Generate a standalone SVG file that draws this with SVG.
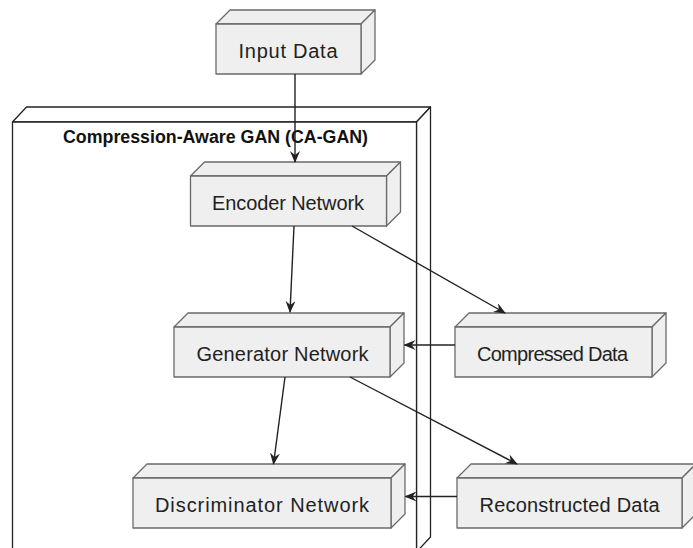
<svg xmlns="http://www.w3.org/2000/svg" width="693" height="548" viewBox="0 0 693 548">
<defs>
<style>
.face{fill:#efefef;stroke:#6a6a6a;stroke-width:1.3;stroke-linejoin:round}
.cface{fill:#ffffff;stroke:#222222;stroke-width:1.3;stroke-linejoin:round}
.lbl{font-family:"Liberation Sans",Arial,sans-serif;font-size:20px;fill:#222222;text-anchor:middle}
.title{font-family:"Liberation Sans",Arial,sans-serif;font-size:18px;font-weight:bold;fill:#111111;text-anchor:middle}
.edge{fill:none;stroke:#222222;stroke-width:1.4}
</style>
<marker id="arr" viewBox="0 0 12 10" refX="11" refY="5" markerWidth="12" markerHeight="10" markerUnits="userSpaceOnUse" orient="auto">
<path d="M0,0 L12,5 L0,10 L4,5 Z" fill="#222222"/>
</marker>
</defs>
<rect width="693" height="548" fill="#ffffff"/>

<g id="container">
<polygon class="cface" points="12.5,122 26.5,107 430.5,107 416.5,122"/>
<polygon class="cface" points="416.5,122 430.5,107 430.5,537 416.5,552"/>
<rect class="cface" x="12.5" y="122" width="404" height="430"/>
<text class="title" x="215.5" y="143" textLength="305" lengthAdjust="spacingAndGlyphs">Compression-Aware GAN (CA-GAN)</text>
</g>

<g id="input">
<polygon class="face" points="216,24 230,10 375,10 361,24"/>
<polygon class="face" points="361,24 375,10 375,60 361,74"/>
<rect class="face" x="216" y="24" width="145" height="50"/>
<text class="lbl" x="288" y="58" textLength="99">Input Data</text>
</g>

<g id="encoder">
<polygon class="face" points="190.5,176 204.5,162 400.5,162 386.5,176"/>
<polygon class="face" points="386.5,176 400.5,162 400.5,212 386.5,226"/>
<rect class="face" x="190.5" y="176" width="196" height="50"/>
<text class="lbl" x="288" y="209.5" textLength="152">Encoder Network</text>
</g>

<g id="generator">
<polygon class="face" points="174,327 188,313 404,313 390,327"/>
<polygon class="face" points="390,327 404,313 404,363 390,377"/>
<rect class="face" x="174" y="327" width="216" height="50"/>
<text class="lbl" x="282.5" y="360.5" textLength="172">Generator Network</text>
</g>

<g id="compressed">
<polygon class="face" points="455,327 469,313 666,313 652,327"/>
<polygon class="face" points="652,327 666,313 666,363 652,377"/>
<rect class="face" x="455" y="327" width="197" height="50"/>
<text class="lbl" x="552.5" y="360.5" textLength="151">Compressed Data</text>
</g>

<g id="discriminator">
<polygon class="face" points="133,478 147,464 405,464 391,478"/>
<polygon class="face" points="391,478 405,464 405,514 391,528"/>
<rect class="face" x="133" y="478" width="258" height="50"/>
<text class="lbl" x="262" y="511.5" textLength="214">Discriminator Network</text>
</g>

<g id="reconstructed">
<polygon class="face" points="457,478 471,464 696,464 682,478"/>
<polygon class="face" points="682,478 696,464 696,514 682,528"/>
<rect class="face" x="457" y="478" width="225" height="50"/>
<text class="lbl" x="569.5" y="511.5" textLength="180">Reconstructed Data</text>
</g>

<g id="connectors">
<line class="edge" x1="295" y1="74" x2="295" y2="162" marker-end="url(#arr)"/>
<line class="edge" x1="294" y1="226" x2="290" y2="312" marker-end="url(#arr)"/>
<line class="edge" x1="352" y1="226" x2="505" y2="313" marker-end="url(#arr)"/>
<line class="edge" x1="455" y1="345" x2="404.5" y2="345" marker-end="url(#arr)"/>
<line class="edge" x1="285" y1="377" x2="273.5" y2="464" marker-end="url(#arr)"/>
<line class="edge" x1="350" y1="377" x2="517" y2="464" marker-end="url(#arr)"/>
<line class="edge" x1="457" y1="496.5" x2="405.5" y2="496.5" marker-end="url(#arr)"/>
</g>
</svg>
